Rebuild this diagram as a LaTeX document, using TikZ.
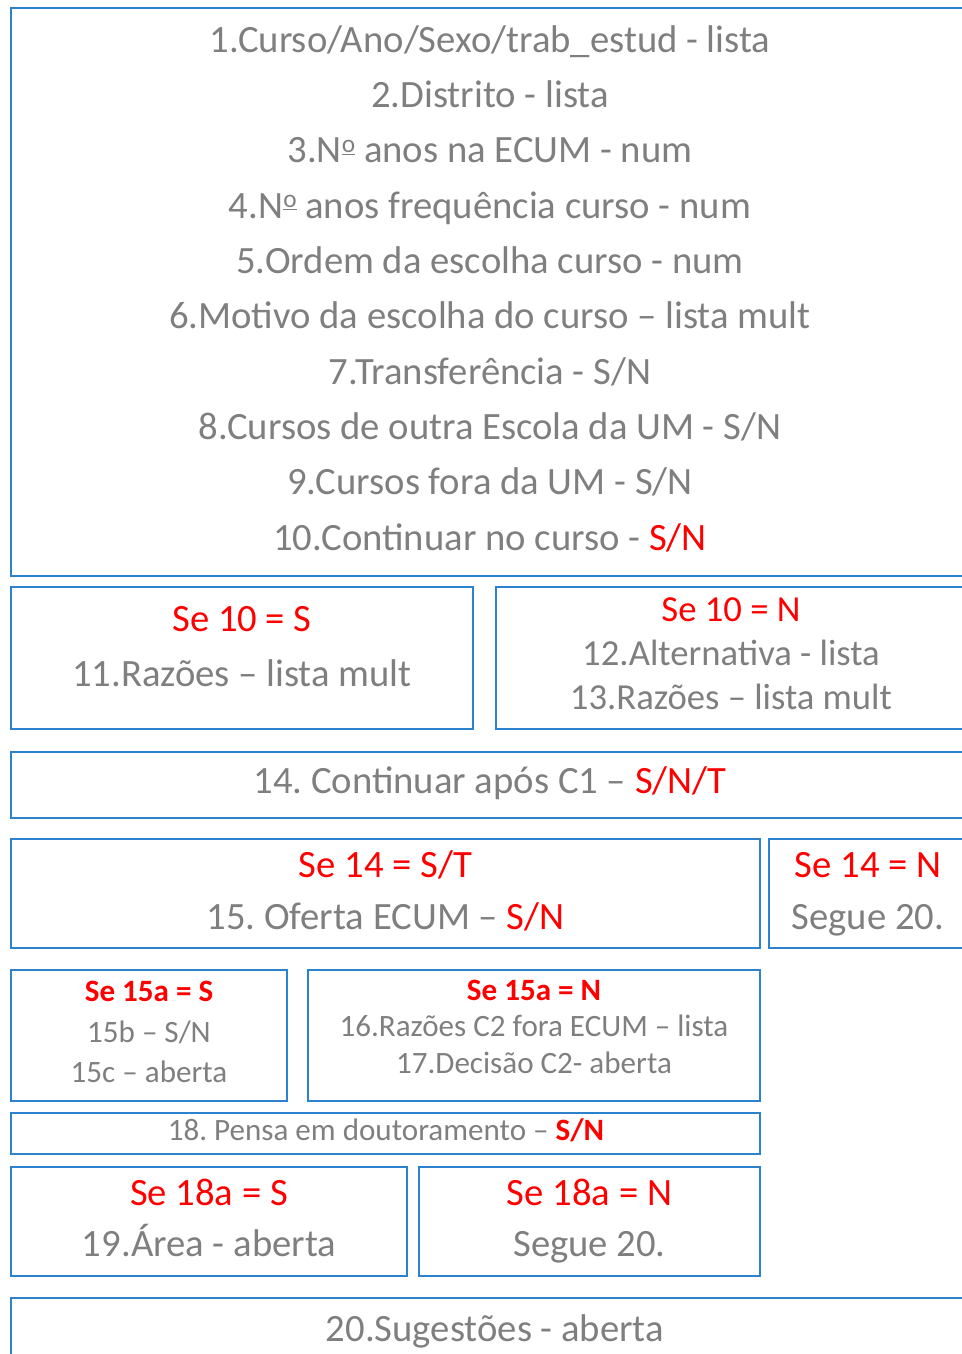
\documentclass[tikz,border=0pt]{standalone}
\usepackage{fontspec}
\setmainfont{Carlito}
\definecolor{boxblue}{RGB}{45,130,205}
\definecolor{txtgray}{RGB}{127,127,127}
\definecolor{txtred}{RGB}{255,0,0}
\newcommand\ordmasc{\raisebox{0.27em}{\fontsize{19}{19}\selectfont\underline{o}}}
\begin{document}
\frenchspacing
\begin{tikzpicture}[x=0.75pt,y=-0.75pt,
  box/.style={draw=boxblue,line width=1.6pt},
  ln/.style={anchor=base,inner sep=0pt,text=txtgray,font=\frenchspacing\fontsize{29}{30}\selectfont},
  lnm/.style={ln,font=\frenchspacing\fontsize{27.5}{28}\selectfont},
  lns/.style={ln,font=\frenchspacing\fontsize{23.3}{24}\selectfont},
  cond/.style={text=txtred}]
\useasboundingbox (0,0) rectangle (962,1354);
\clip (0,0) rectangle (962,1354);
% boxes
\draw[box] (11,8) rectangle (975,576);
\draw[box] (11,587) rectangle (473,729);
\draw[box] (496,587) rectangle (975,729);
\draw[box] (11,752) rectangle (975,818);
\draw[box] (11,839) rectangle (760,948);
\draw[box] (769,839) rectangle (975,948);
\draw[box] (11,970) rectangle (287,1101);
\draw[box] (308,970) rectangle (760,1101);
\draw[box] (11,1113) rectangle (760,1154);
\draw[box] (11,1167) rectangle (407,1276);
\draw[box] (419,1167) rectangle (760,1276);
\draw[box] (11,1298) rectangle (975,1400);
% box 1
\node[ln] (l1) at (490,52) {1.Curso/Ano/Sexo/trab\_estud - lista};
\node[ln] (l2) at (490,107.3) {2.Distrito - lista};
\node[ln] (l3) at (490,162.7) {3.N\ordmasc{} anos na ECUM - num};
\node[ln] (l4) at (490,218) {4.N\ordmasc{} anos frequência curso - num};
\node[ln] (l5) at (490,273.3) {5.Ordem da escolha curso - num};
\node[ln] (l6) at (490,328.7) {6.Motivo da escolha do curso – lista mult};
\node[ln] (l7) at (490,384) {7.Transferência - S/N};
\node[ln] (l8) at (490,439.3) {8.Cursos de outra Escola da UM - S/N};
\node[ln] (l9) at (490,494.7) {9.Cursos fora da UM - S/N};
\node[ln] (l10) at (490,550) {10.Continuar no curso - \textcolor{txtred}{S/N}};
% 10 = S
\node[ln,cond] (c10s) at (242,631) {Se 10 = S};
\node[ln] (q11) at (242,686) {11.Razões – lista mult};
% 10 = N
\node[lnm,cond] (c10n) at (731,621) {Se 10 = N};
\node[lnm] (q12) at (731,665) {12.Alternativa - lista};
\node[lnm] (q13) at (731,709) {13.Razões – lista mult};
% 14
\node[ln] (q14) at (490,793) {14. Continuar após C1 – \textcolor{txtred}{S/N/T}};
% 14 = S/T
\node[ln,cond] (c14st) at (385.5,877) {Se 14 = S/T};
\node[ln] (q15) at (385.5,929) {15. Oferta ECUM – \textcolor{txtred}{S/N}};
% 14 = N
\node[ln,cond] (c14n) at (868,877) {Se 14 = N};
\node[ln] (s14n) at (868,929) {Segue 20.};
% 15a = S
\node[lns,cond] (c15s) at (149,1001.5) {\bfseries Se 15a = S};
\node[lns] (q15b) at (149,1042) {15b – S/N};
\node[lns] (q15c) at (149,1082) {15c – aberta};
% 15a = N
\node[lns,cond] (c15n) at (534,1000) {\bfseries Se 15a = N};
\node[lns] (q16) at (534,1036.7) {16.Razões C2 fora ECUM – lista};
\node[lns] (q17) at (534,1073) {17.Decisão C2- aberta};
% 18
\node[lns] (q18) at (386,1140.7) {18. Pensa em doutoramento – \textcolor{txtred}{\bfseries S/N}};
% 18a = S
\node[ln,cond] (c18s) at (209,1205) {Se 18a = S};
\node[ln] (q19) at (209,1256.7) {19.Área - aberta};
% 18a = N
\node[ln,cond] (c18n) at (589.5,1205) {Se 18a = N};
\node[ln] (s18n) at (589.5,1256.7) {Segue 20.};
% 20
\node[ln] (q20) at (495,1341.7) {20.Sugestões - aberta};
\end{tikzpicture}
\end{document}
